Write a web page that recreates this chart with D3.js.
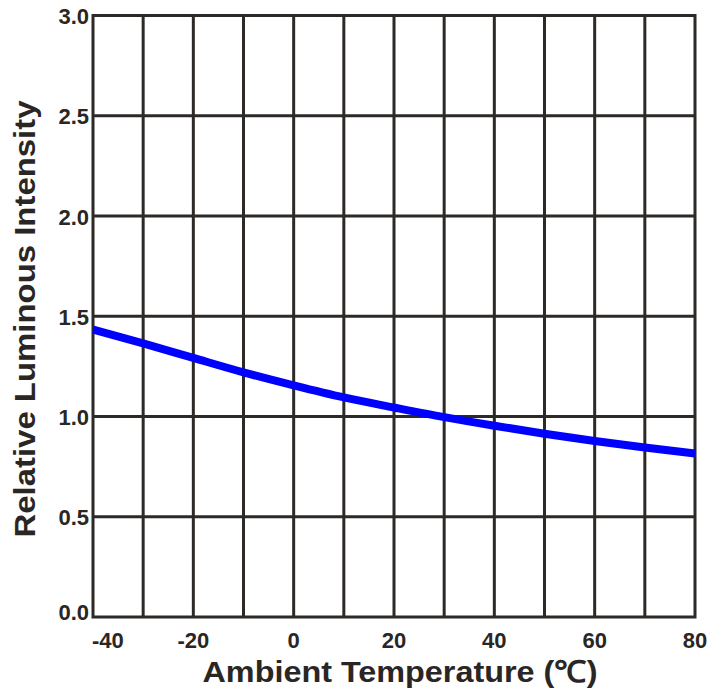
<!DOCTYPE html>
<html>
<head>
<meta charset="utf-8">
<script src="https://cdn.jsdelivr.net/npm/d3@7"></script>
<style>
  body { margin: 0; background: #fff; }
  text { font-family: "Liberation Sans", Arial, sans-serif; font-weight: bold; fill: #2a2624; }
</style>
</head>
<body>
<svg id="chart"></svg>
<script>
// temperature (°C) vs relative luminous intensity
const temps = [-40, -30, -20, -10, 0, 10, 20, 30, 40, 50, 60, 70, 80];
const intensity = [1.434, 1.365, 1.292, 1.220, 1.155, 1.095, 1.045, 0.997, 0.954, 0.914, 0.878, 0.845, 0.815];
const xTicks = [-40, -20, 0, 20, 40, 60, 80];
const xGrid = [-30, -20, -10, 0, 10, 20, 30, 40, 50, 60, 70];
const yTicks = [0, 0.5, 1.0, 1.5, 2.0, 2.5, 3.0];

const width = 727, height = 691;
const margin = {top: 15.5, right: 32, bottom: 74, left: 93};
const innerW = width - margin.left - margin.right;
const innerH = height - margin.top - margin.bottom;
const ink = '#2d2927';

const svg = d3.select('#chart')
  .attr('width', width)
  .attr('height', height);

const g = svg.append('g')
  .attr('transform', `translate(${margin.left},${margin.top})`);

const x = d3.scaleLinear().domain([-40, 80]).range([0, innerW]);
const y = d3.scaleLinear().domain([0, 3]).range([innerH, 0]);

// grid
g.selectAll('.vgrid')
  .data(xGrid)
  .join('line')
  .attr('class', 'vgrid')
  .attr('x1', d => x(d)).attr('x2', d => x(d))
  .attr('y1', 0).attr('y2', innerH)
  .attr('stroke', ink).attr('stroke-width', 3);

g.selectAll('.hgrid')
  .data(yTicks.slice(1, -1))
  .join('line')
  .attr('class', 'hgrid')
  .attr('x1', 0).attr('x2', innerW)
  .attr('y1', d => y(d)).attr('y2', d => y(d))
  .attr('stroke', ink).attr('stroke-width', 3);

// frame
g.append('rect')
  .attr('width', innerW).attr('height', innerH)
  .attr('fill', 'none')
  .attr('stroke', ink).attr('stroke-width', 3);

// curve
const line = d3.line()
  .x((d, i) => x(temps[i]))
  .y(d => y(d))
  .curve(d3.curveMonotoneX);

g.append('path')
  .datum(intensity)
  .attr('d', line)
  .attr('fill', 'none')
  .attr('stroke', '#0000ff')
  .attr('stroke-width', 8);

// x tick labels
g.selectAll('.xlab')
  .data(xTicks)
  .join('text')
  .attr('class', 'xlab')
  .attr('x', d => d === -40 ? x(d) - 1 : x(d))
  .attr('y', innerH + 30.5)
  .attr('text-anchor', d => d === -40 ? 'start' : 'middle')
  .style('font-size', '22px')
  .text(d => d);

// y tick labels
g.selectAll('.ylab')
  .data(yTicks)
  .join('text')
  .attr('class', 'ylab')
  .attr('x', -4)
  .attr('y', d => d === 0 ? y(d) - 5 : y(d) + 1)
  .attr('dy', '0.35em')
  .attr('text-anchor', 'end')
  .style('font-size', '22px')
  .text(d => d3.format('.1f')(d));

// axis titles
svg.append('text')
  .attr('x', 400)
  .attr('y', 682)
  .attr('text-anchor', 'middle')
  .attr('textLength', 395)
  .attr('lengthAdjust', 'spacingAndGlyphs')
  .style('font-size', '30px')
  .text('Ambient Temperature (℃)');

svg.append('text')
  .attr('transform', 'translate(35,319) rotate(-90)')
  .attr('text-anchor', 'middle')
  .attr('textLength', 437)
  .attr('lengthAdjust', 'spacingAndGlyphs')
  .style('font-size', '30px')
  .text('Relative Luminous Intensity');
</script>
</body>
</html>
